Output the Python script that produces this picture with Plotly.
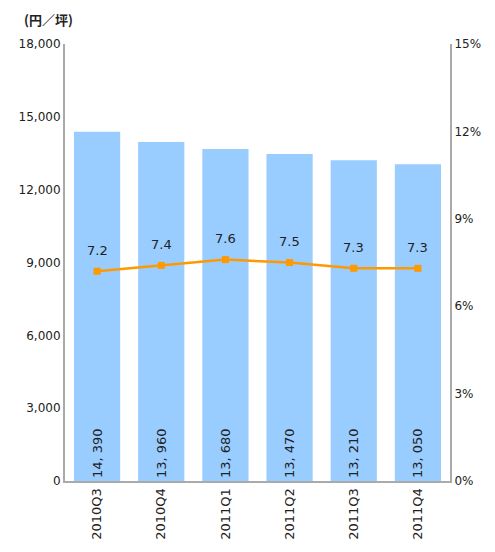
import plotly.graph_objects as go

categories = ["2010Q3", "2010Q4", "2011Q1", "2011Q2", "2011Q3", "2011Q4"]
rent = [14390, 13960, 13680, 13470, 13210, 13050]
rate = [7.2, 7.4, 7.6, 7.5, 7.3, 7.3]
rent_labels = ["14, 390", "13, 960", "13, 680", "13, 470", "13, 210", "13, 050"]
left_ticks = [0, 3000, 6000, 9000, 12000, 15000, 18000]
left_ticktext = ["0", "3,000", "6,000", "9,000", "12,000", "15,000", "18,000"]
right_ticks = [0, 3, 6, 9, 12, 15]
right_ticktext = ["0%", "3%", "6%", "9%", "12%", "15%"]

font = "DejaVu Sans, sans-serif"
cjk = "Noto Sans CJK JP, sans-serif"

fig = go.Figure()
fig.add_trace(go.Bar(
    x=categories, y=rent, marker=dict(color="#99CCFF", line=dict(width=0)),
    text=rent_labels, textposition="inside", insidetextanchor="start",
    textangle=-90, textfont=dict(color="#222222", size=13, family=font),
    width=0.72, yaxis="y", showlegend=False,
))
fig.add_trace(go.Scatter(
    x=categories, y=rate, yaxis="y2", mode="lines+markers",
    line=dict(color="#FF9900", width=2.5),
    marker=dict(symbol="square", size=7, color="#FF9900"),
    showlegend=False, cliponaxis=False,
))

annotations = [dict(
    x=c, y=v, xref="x", yref="y2", text=f"{v:.1f}", showarrow=False,
    yshift=21, font=dict(size=13, color="#222222", family=font),
) for c, v in zip(categories, rate)]
annotations.append(dict(
    text="<b>(円／坪)</b>", xref="paper", yref="paper", x=-0.11, y=1.08,
    xanchor="left", yanchor="top", showarrow=False, borderpad=0,
    font=dict(size=13, color="#222222", family=cjk),
))

fig.update_layout(
    width=487, height=544,
    margin=dict(l=57, r=45, t=36, b=71),
    paper_bgcolor="white", plot_bgcolor="white",
    font=dict(family=font, size=12, color="#222222"),
    xaxis=dict(
        tickangle=-90, showline=True, linecolor="#AAAAAA", linewidth=2,
        ticks="", showgrid=False, tickfont=dict(size=13), automargin=False,
    ),
    yaxis=dict(
        range=[0, 18000], tickvals=left_ticks, ticktext=left_ticktext,
        showline=True, linecolor="#AAAAAA", linewidth=2, showgrid=False,
        zeroline=False, ticks="", tickfont=dict(size=12), automargin=False,
    ),
    yaxis2=dict(
        range=[0, 15], tickvals=right_ticks, ticktext=right_ticktext,
        overlaying="y", side="right", showline=True, linecolor="#AAAAAA",
        linewidth=2, showgrid=False, zeroline=False, ticks="",
        tickfont=dict(size=12), automargin=False,
    ),
    annotations=annotations,
)

fig.write_html("out.html")
